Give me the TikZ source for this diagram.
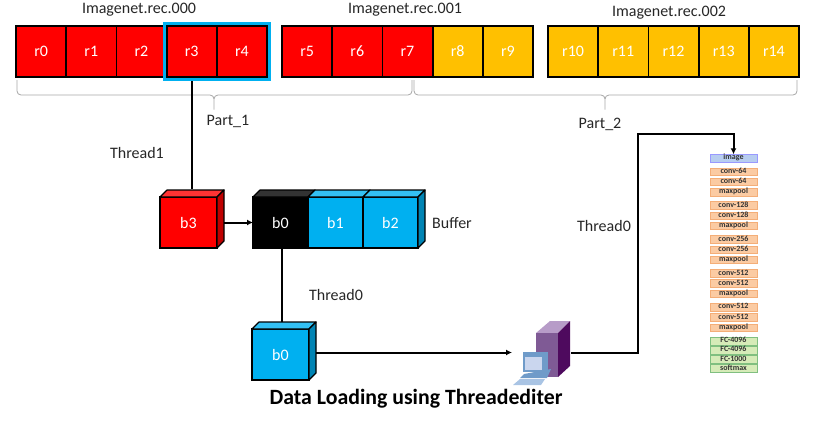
\documentclass[tikz,border=0pt]{standalone}
\usepackage{fontspec}
\setmainfont{Carlito}
\usetikzlibrary{matrix,arrows.meta,positioning,fit}

\definecolor{recred}{HTML}{FF0000}
\definecolor{recgold}{HTML}{FFC000}
\definecolor{bufblue}{HTML}{00B0F0}
\definecolor{layerorange}{HTML}{FBCBA3}
\definecolor{layerline}{HTML}{F4AE78}
\definecolor{layerblue}{HTML}{B7CDF0}
\definecolor{layergreen}{HTML}{D6EBB8}
\definecolor{towertop}{HTML}{B79CC8}
\definecolor{towerfront}{HTML}{7F5A95}
\definecolor{towerside}{HTML}{4E0A5E}
\definecolor{monitor}{HTML}{6F9BC9}
\definecolor{screen}{HTML}{CAD6EE}
\definecolor{keys}{HTML}{A9C4E4}

\tikzset{
  reccell/.style={draw=black,line width=1.8pt,fill=recred,text=white,font=\fontsize{16}{18}\selectfont,
    minimum width=50.2pt,minimum height=51pt,inner sep=0pt,outer sep=0pt},
  recrow/.style={matrix of nodes,nodes={reccell},column sep=-1.8pt,inner sep=0pt,outer sep=0pt},
  gold/.style={fill=recgold},
  cube/.style={draw=black,line width=1.6pt,text=white,font=\fontsize{16}{18}\selectfont,
    minimum width=55pt,minimum height=51pt,inner sep=0pt,outer sep=0pt},
  note/.style={inner sep=0pt,font=\fontsize{16}{18}\selectfont,text=black!85},
  wire/.style={line width=2pt},
  tip/.style={-{Latex[length=6pt,width=6pt]}},
  part/.style={draw=black!35,line width=.8pt,rounded corners=4pt},
  layer/.style={draw=layerline,line width=.5pt,fill=layerorange,text=black!80,
    font=\fontsize{8}{9}\selectfont\bfseries,minimum width=47pt,minimum height=7.6pt,
    inner sep=0pt,outer sep=0pt,text height=5pt,text depth=1.5pt},
  inlayer/.style={draw=blue!40,fill=layerblue},
  fclayer/.style={draw=green!50!black!50,fill=layergreen}
}

% top of a box behind its front node: #1 node, #2 colour, #3 front width
\newcommand{\boxtop}[3]{
  \draw[fill=#2,line width=1.2pt,line join=round] (#1.north west) -- ++(7,-7) -- ++(#3,0) -- (#1.north east) -- cycle;
}
% side of a box behind its front node: #1 node, #2 colour
\newcommand{\boxside}[2]{
  \draw[fill=#2,line width=1.2pt,line join=round] (#1.north east) -- ++(7,-7) -- ++(0,51) -- (#1.south east) -- cycle;
}

\begin{document}
\begin{tikzpicture}[x=1pt,y=-1pt]
  \useasboundingbox (0,0) rectangle (813,420);

  % records
  \matrix(fa)[recrow] at (141.5,51.5)
  { r0 & r1 & r2 & r3 & r4 \\};
  \matrix(fb)[recrow] at (407.5,51.5)
  { r5 & r6 & r7 & |[gold]| r8 & |[gold]| r9 \\};
  \matrix(fc)[recrow,nodes={gold}] at (673.5,51.5)
  { r10 & r11 & r12 & r13 & r14 \\};
  \node[fit=(fa-1-4)(fa-1-5),draw=bufblue,line width=3pt,inner sep=2.5pt] (hl) {};

  \node[note] (na) at (139,10) {Imagenet.rec.000};
  \node[note] (nb) at (405,10) {Imagenet.rec.001};
  \node[note] (nc) at (669,13) {Imagenet.rec.002};

  % braces
  \draw[part] (17,80) -- (17,95) -- (214,95) -- (214,112) -- (214,95) -- (412,95) -- (412,80);
  \draw[part] (414,80) -- (414,95) -- (605,95) -- (605,112) -- (605,95) -- (797,95) -- (797,80);
  \node[note] (pa) at (228,121) {Part\_1};
  \node[note] (pb) at (600,124) {Part\_2};

  % boxes
  \node[cube,fill=recred,minimum width=57pt] (b3) at (188.5,222.5) {b3};
  \boxtop{b3}{red!80}{57}
  \boxside{b3}{recred!75!black}

  \node[cube,fill=black] (q0) at (280.5,222.5) {b0};
  \node[cube,fill=bufblue,right=0pt of q0] (q1) {b1};
  \node[cube,fill=bufblue,right=0pt of q1] (q2) {b2};
  \boxtop{q0}{black!80}{55}
  \boxtop{q1}{bufblue!80}{55}
  \boxtop{q2}{bufblue!80}{55}
  \boxside{q2}{bufblue!75!black}
  \node[note,anchor=west] (bl) at (432,223) {Buffer};

  \node[cube,fill=bufblue,minimum width=57pt] (b0) at (280.5,354.5) {b0};
  \boxtop{b0}{bufblue!80}{57}
  \boxside{b0}{bufblue!75!black}

  % computer
  \node[minimum width=59pt,minimum height=63pt,inner sep=0pt,outer sep=0pt] (pc) at (541.5,352.5) {};
  \fill[towertop] (536,333) -- (550,321) -- (570,321) -- (558,333) -- cycle;
  \fill[towerfront] (536,333) -- (558,333) -- (558,377) -- (536,377) -- cycle;
  \fill[towerside] (558,333) -- (570,321) -- (570,366) -- (558,377) -- cycle;
  \fill[monitor] (523,352) -- (548,352) -- (548,372) -- (523,372) -- cycle;
  \fill[screen] (525,357) -- (542,357) -- (542,370) -- (525,370) -- cycle;
  \fill[monitor] (524,374) -- (551,369) -- (547,378) -- (520,378) -- cycle;
  \fill[keys] (520,379) -- (545,379) -- (541,385) -- (513,385) -- cycle;

  % network
  \matrix(net)[matrix of nodes,nodes={layer},row sep=2.1pt,inner sep=0pt] at (733.5,263.25)
  { |[inlayer]| image \\[3.3pt]
    conv-64 \\ conv-64 \\ maxpool \\[3.3pt]
    conv-128 \\ conv-128 \\ maxpool \\[3.3pt]
    conv-256 \\ conv-256 \\ maxpool \\[3.3pt]
    conv-512 \\ conv-512 \\ maxpool \\[3.3pt]
    conv-512 \\ conv-512 \\ maxpool \\[3.3pt]
    |[fclayer]| FC-4096 \\[-1.1pt]
    |[fclayer]| FC-4096 \\[-1.1pt]
    |[fclayer]| FC-1000 \\[-1.1pt]
    |[fclayer]| softmax \\};

  % connectors
  \coordinate (b3top) at (192,189);
  \coordinate (q0top) at (282,322);
  \coordinate (bend) at (638,134);
  \path[wire,draw]
    (b3top |- hl.south) -- (b3top);
  \path[tip]
    ([xshift=7pt]b3.east) edge[wire] (q0.west);
  \path[wire,draw]
    (q0top |- q0.south) -- (q0top);
  \path[tip]
    ([xshift=7pt]b0.east |- pc.west) edge[wire] (pc.west);
  \draw[wire,tip]
    (pc.east) -| (bend) -| (net-1-1.north);

  \node[note] (ta) at (137,153) {Thread1};
  \node[note] (tb) at (604,226) {Thread0};
  \node[note] (tc) at (336,295) {Thread0};
  \node[inner sep=0pt,font=\fontsize{21.8}{24}\selectfont\bfseries] (title) at (416,399) {Data Loading using Threadediter};
\end{tikzpicture}
\end{document}
